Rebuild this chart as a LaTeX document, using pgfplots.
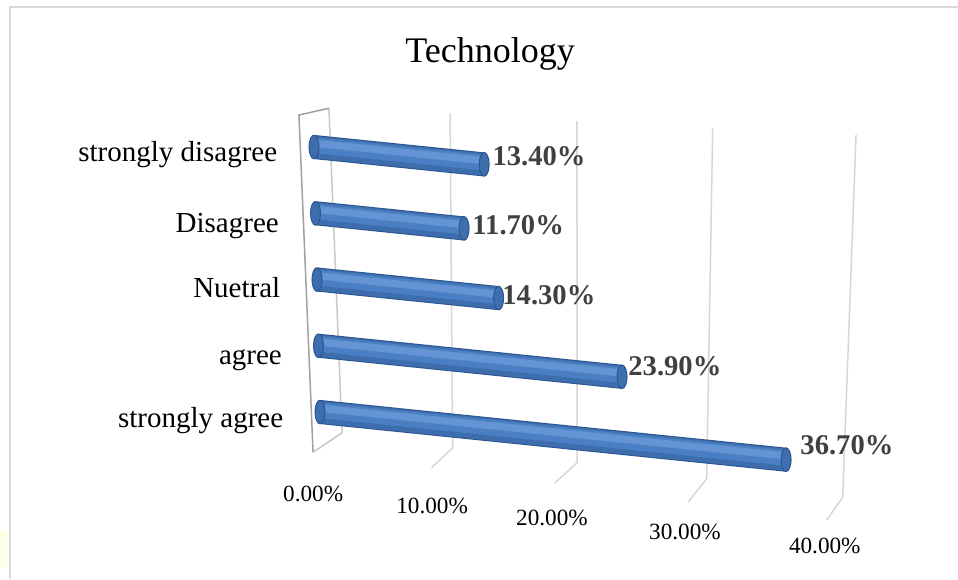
\documentclass[border=0pt]{standalone}
\usepackage{pgfplots}
\pgfplotsset{compat=1.18}
\usepackage{pgfplotstable}
\usepackage{fontspec}
\setmainfont{Liberation Serif}
\definecolor{barmid}{HTML}{4A80C3}
\definecolor{bardark}{HTML}{3D6DAD}
\definecolor{barlight}{HTML}{6494D4}
\definecolor{barout}{HTML}{2C5690}
\definecolor{capc}{HTML}{3F6EAD}
\definecolor{gridc}{HTML}{D6D6D6}
\definecolor{wallc}{HTML}{A0A0A0}
\definecolor{wallb}{HTML}{C8C8C8}
\definecolor{lbl}{HTML}{404040}
\definecolor{framec}{HTML}{D9D9D9}
\pgfdeclareplotmark{barcap}{%
  \pgfpathellipse{\pgfpointorigin}{\pgfqpoint{\pgfplotmarksize}{0pt}}{\pgfqpoint{0pt}{5.9pt}}%
  \pgfusepathqfillstroke}
\pgfplotstableread{
cat val
0 36.7
1 23.9
2 14.3
3 11.7
4 13.4
}\bars
\pgfplotsset{
  vlab/.style 2 args={draw=none, mark=none, point meta=x, forget plot,
    nodes near coords={\pgfmathprintnumber[fixed,fixed zerofill,precision=2,assume math mode=true]{\pgfplotspointmeta}\%},
    every node near coord/.append style={anchor=west, inner sep=0pt, xshift=#1, yshift=#2,
      font=\bfseries\fontsize{14.3}{16}\selectfont, text=lbl}},
}
% one cylinder-like bar from 0 to the value, drawn in data coordinates
\newcommand\cylbar[2]{%
  \addplot[barout, line width=12pt, forget plot] coordinates {(0,#1) (#2,#1)};
  \addplot[bardark, line width=11pt, forget plot] coordinates {(0,#1) (#2,#1)};
  \addplot[barmid, line width=7.8pt, yshift=0.9pt, forget plot] coordinates {(0,#1) (#2,#1)};
  \addplot[barlight, line width=3.6pt, yshift=1.9pt, forget plot] coordinates {(0,#1) (#2,#1)};
}
\begin{document}
\begin{tikzpicture}
\useasboundingbox (0,0) rectangle (479pt,289.5pt);
\fill[yellow!10] (0,5.5pt) rectangle (4pt,24.5pt);
\draw[draw=framec, line width=1pt] (5pt,0) -- (5pt,286pt) -- (479pt,286pt);
\node[anchor=base, inner sep=0pt, font=\fontsize{18}{20}\selectfont] at (245pt,258pt) {Technology};
\begin{axis}[
  x={(6.35pt,-0.65pt)}, y={(-0.75pt,33.125pt)},
  anchor=origin, at={(160pt,83.5pt)},
  xmin=-2.9, xmax=43, ymin=-1.25, ymax=5.1,
  clip=false,
  axis line style={draw=none},
  tick style={draw=none},
  xtick={-0.69,8.68,18.12,28.59,39.6},
  xticklabels={0.00\%,10.00\%,20.00\%,30.00\%,40.00\%},
  xticklabel style={anchor=center, inner sep=0pt, font=\fontsize{11.6}{13}\selectfont},
  ytick={-0.29,0.66,1.67,2.66,3.72},
  yticklabels={strongly agree, agree, Nuetral, Disagree, strongly disagree},
  yticklabel style={anchor=base east, inner sep=0pt, font=\fontsize{14.5}{16}\selectfont},
]
% left wall
\addplot[wallb, line width=0.75pt, forget plot] coordinates {(-0.62,-0.62) (1.7,-0.28) (1.25,4.61)};
\addplot[wallc, line width=0.75pt, forget plot] coordinates {(1.25,4.61) (-1.13,4.46) (-0.62,-0.62)};
% back-wall grid lines and floor lines
\addplot[gridc, line width=0.75pt, forget plot] coordinates {(8.7,-0.67) (10.4,-0.34) (10.8,4.72)};
\addplot[gridc, line width=0.75pt, forget plot] coordinates {(18.4,-0.71) (20.2,-0.37) (20.8,4.80)};
\addplot[gridc, line width=0.75pt, forget plot] coordinates {(28.9,-0.79) (30.4,-0.41) (31.5,4.90)};
\addplot[gridc, line width=0.75pt, forget plot] coordinates {(39.8,-0.85) (41.1,-0.48) (42.8,5.02)};
% left rounded ends
\addplot[only marks, mark=barcap, mark size=2.5pt, mark options={fill=bardark, draw=barout, line width=0.5pt}, forget plot]
  coordinates {(0,0) (0,1) (0,2) (0,3) (0,4)};
% cylinder bodies
\cylbar{0}{36.7}
\cylbar{1}{23.9}
\cylbar{2}{14.3}
\cylbar{3}{11.7}
\cylbar{4}{13.4}
% right end caps
\addplot[only marks, mark=barcap, mark size=2.5pt,
  mark options={fill=capc, draw=barout, line width=0.5pt}, forget plot] table[x=val,y=cat]{\bars};
% value labels
\addplot[vlab={7pt}{7.5pt}] coordinates {(36.7,0)};
\addplot[vlab={3pt}{5.5pt}] coordinates {(23.9,1)};
\addplot[vlab={1.7pt}{1.5pt}] coordinates {(14.3,2)};
\addplot[vlab={4pt}{1.75pt}] coordinates {(11.7,3)};
\addplot[vlab={4pt}{4.2pt}] coordinates {(13.4,4)};
\end{axis}
\end{tikzpicture}
\end{document}
